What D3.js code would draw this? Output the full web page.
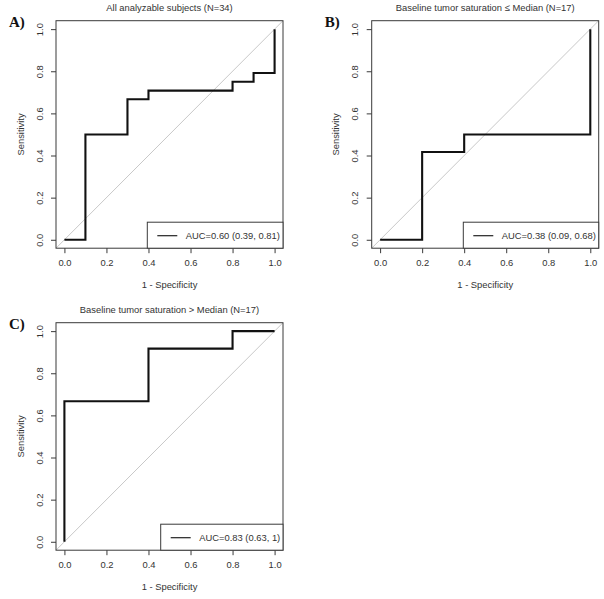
<!DOCTYPE html>
<html><head><meta charset="utf-8">
<script src="https://cdn.jsdelivr.net/npm/d3@7"></script>
<style>body{margin:0;background:#fff}svg{display:block}text{font-family:"Liberation Sans",Arial,sans-serif}text.plabel{font-family:"Liberation Serif","Times New Roman",serif;font-weight:bold}</style>
</head><body>
<script>
// ---- data ----
const panelLabels = ["A)", "B)", "C)"];
const panelTitles = ["All analyzable subjects (N=34)", "Baseline tumor saturation \u2264 Median (N=17)", "Baseline tumor saturation > Median (N=17)"];
const aucLabels = ["AUC=0.60 (0.39, 0.81)", "AUC=0.38 (0.09, 0.68)", "AUC=0.83 (0.63, 1)"];
const fprA = [0, 0.1, 0.1, 0.3, 0.3, 0.4, 0.4, 0.8, 0.8, 0.9, 0.9, 1.0, 1.0];
const tprA = [0, 0, 0.5, 0.5, 0.667, 0.667, 0.708, 0.708, 0.75, 0.75, 0.792, 0.792, 1.0];
const fprB = [0, 0.2, 0.2, 0.4, 0.4, 1.0, 1.0];
const tprB = [0, 0, 0.417, 0.417, 0.5, 0.5, 1.0];
const fprC = [0, 0, 0.4, 0.4, 0.8, 0.8, 1.0];
const tprC = [0, 0.667, 0.667, 0.917, 0.917, 1.0, 1.0];
const tickValues = [0, 0.2, 0.4, 0.6, 0.8, 1.0];
const xTitle = "1 - Specificity", yTitle = "Sensitivity";

const W = 604, H = 599;
const svg = d3.select("body").append("svg").attr("width", W).attr("height", H);

const panels = [
  {fpr: fprA, tpr: tprA, x0: 56, y0: 20.7, legLeft: 147.3},
  {fpr: fprB, tpr: tprB, x0: 371.7, y0: 20.7, legLeft: 463.3},
  {fpr: fprC, tpr: tprC, x0: 56, y0: 322.7, legLeft: 160.7}
];
const bw = 227, bh = 227.5;
const FS = 9.4;

panels.forEach((p, i) => {
  const g = svg.append("g").attr("transform", `translate(${p.x0},${p.y0})`);
  const x = d3.scaleLinear().domain([-0.04, 1.04]).range([0, bw]);
  const y = d3.scaleLinear().domain([-0.04, 1.04]).range([bh, 0]);
  const clipId = "clip" + i;
  g.append("clipPath").attr("id", clipId).append("rect").attr("width", bw).attr("height", bh);

  // diagonal
  g.append("line").attr("clip-path", `url(#${clipId})`)
    .attr("x1", x(-0.04)).attr("y1", y(-0.04)).attr("x2", x(1.04)).attr("y2", y(1.04))
    .attr("stroke", "#c8c8c8").attr("stroke-width", 1);

  // ROC curve
  const pts = p.fpr.map((f, k) => [f, p.tpr[k]]);
  g.append("path").datum(pts)
    .attr("d", d3.line().x(d => x(d[0])).y(d => y(d[1])))
    .attr("fill", "none").attr("stroke", "#111").attr("stroke-width", 2.1)
    .attr("stroke-linejoin", "miter").attr("stroke-linecap", "butt");

  // box
  g.append("rect").attr("width", bw).attr("height", bh)
    .attr("fill", "none").attr("stroke", "#3a3a3a").attr("stroke-width", 1);

  // axes
  const xa = g.append("g").attr("transform", `translate(0,${bh})`)
    .call(d3.axisBottom(x).tickValues(tickValues).tickFormat(d3.format(".1f")).tickSize(5).tickPadding(6));
  xa.select(".domain").remove();
  xa.selectAll("line").attr("stroke", "#3a3a3a");
  xa.selectAll("text").attr("font-size", FS).attr("fill", "#333").attr("font-family", null);

  const ya = g.append("g").call(d3.axisLeft(y).tickValues(tickValues).tickFormat(d3.format(".1f")).tickSize(5).tickPadding(6));
  ya.select(".domain").remove();
  ya.selectAll("line").attr("stroke", "#3a3a3a");
  ya.selectAll("text").attr("font-size", FS).attr("fill", "#333").attr("font-family", null)
    .attr("text-anchor", "middle").attr("dy", null).attr("x", null)
    .attr("transform", "translate(-17,0) rotate(-90)").attr("dominant-baseline", "central");

  // axis titles
  g.append("text").attr("x", x(0.5)).attr("y", bh + 40).attr("text-anchor", "middle")
    .attr("font-size", FS).attr("fill", "#333").text(xTitle);
  g.append("text").attr("transform", `translate(${-36},${y(0.5)}) rotate(-90)`).attr("text-anchor", "middle")
    .attr("dominant-baseline", "central").attr("font-size", FS).attr("fill", "#333").text(yTitle);

  // title
  g.append("text").attr("x", x(0.5)).attr("y", -9.5).attr("text-anchor", "middle")
    .attr("font-size", FS).attr("fill", "#333").text(panelTitles[i]);

  // panel label
  g.append("text").attr("class", "plabel").attr("x", -47).attr("y", 6.5)
    .attr("font-size", 15).attr("fill", "#111").text(panelLabels[i]);

  // legend
  const lx = p.legLeft - p.x0, lh = 26;
  g.append("rect").attr("x", lx).attr("y", bh - lh).attr("width", bw - lx).attr("height", lh)
    .attr("fill", "#fff").attr("stroke", "#3a3a3a").attr("stroke-width", 1);
  g.append("line").attr("x1", lx + 10).attr("x2", lx + 30).attr("y1", bh - lh / 2 + 0.5).attr("y2", bh - lh / 2 + 0.5)
    .attr("stroke", "#222").attr("stroke-width", 1.2);
  g.append("text").attr("x", lx + 38.5).attr("y", bh - lh / 2 + 0.5).attr("dominant-baseline", "central")
    .attr("font-size", FS).attr("fill", "#333").text(aucLabels[i]);
});
</script>
</body></html>
